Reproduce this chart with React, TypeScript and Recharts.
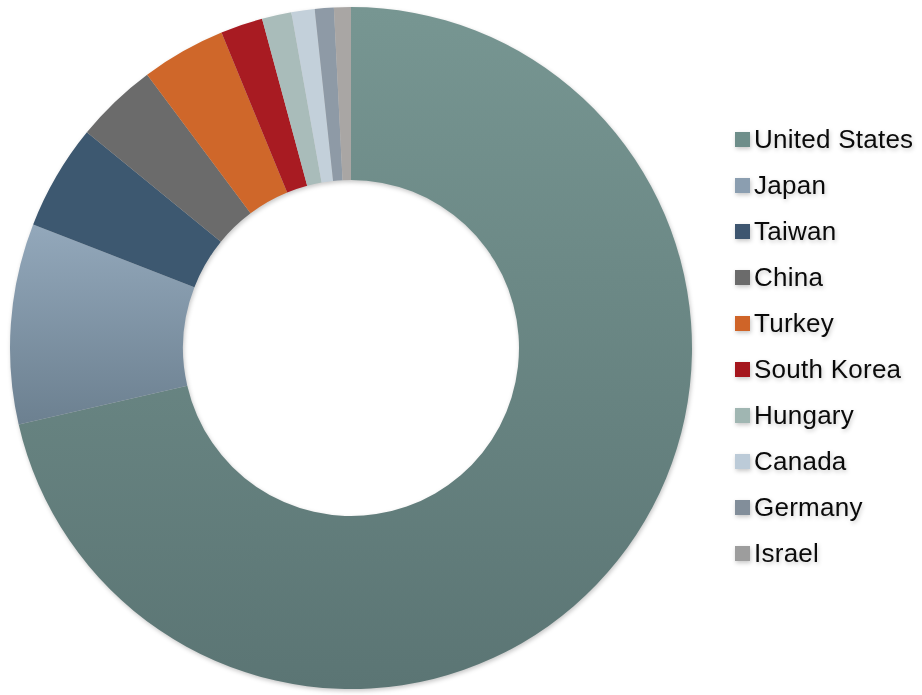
import { Cell, Legend, Pie, PieChart } from "recharts";

const countries = [
  "United States",
  "Japan",
  "Taiwan",
  "China",
  "Turkey",
  "South Korea",
  "Hungary",
  "Canada",
  "Germany",
  "Israel",
];

// share in percent
const shares = [71.4, 9.5, 5.0, 3.9, 4.0, 2.0, 1.4, 1.1, 0.9, 0.8];

const swatches = [
  "#6e8e8a",
  "#8b9eb0",
  "#3e5670",
  "#6b6b6b",
  "#cf6428",
  "#a5161d",
  "#a0b6b2",
  "#bccbd8",
  "#828e9a",
  "#9d9d9d",
];

const fills = [
  "url(#gradUS)",
  "url(#gradJP)",
  "#3d5870",
  "#6b6b6b",
  "#cf672a",
  "#a81b22",
  "#a9bcba",
  "#c3d0da",
  "#8e9aa6",
  "#a9a6a4",
];

const data = countries.map((name, i) => ({ name, value: shares[i] }));

// legend keeps the series order (recharts would sort the payload by name)
function LegendList() {
  return (
    <div style={{ fontFamily: "'Liberation Sans', Arial, sans-serif" }}>
      {countries.map((name, i) => (
        <div key={name} style={{ display: "flex", alignItems: "center", height: 46.1 }}>
          <span
            style={{
              display: "inline-block",
              width: 15,
              height: 15,
              background: swatches[i],
              marginRight: 4,
            }}
          />
          <span style={{ fontSize: 26, color: "#0a0a0a", letterSpacing: 0.25 }}>{name}</span>
        </div>
      ))}
    </div>
  );
}

export default function App() {
  return (
    <div style={{ position: "absolute", left: 0, top: 0, width: 922, height: 695, background: "#fff" }}>
      <PieChart
        width={922}
        height={695}
        margin={{ top: 0, right: 0, bottom: 0, left: 0 }}
        style={{ filter: "drop-shadow(1px 2px 2px rgba(0,0,0,0.22))" }}
      >
        <defs>
          <linearGradient id="gradUS" x1="0" y1="0" x2="0" y2="1">
            <stop offset="0%" stopColor="#779692" />
            <stop offset="100%" stopColor="#5b7574" />
          </linearGradient>
          <linearGradient id="gradJP" x1="0" y1="0" x2="0" y2="1">
            <stop offset="0%" stopColor="#93a8bb" />
            <stop offset="100%" stopColor="#6c8090" />
          </linearGradient>
        </defs>
        <Pie
          data={data}
          dataKey="value"
          nameKey="name"
          cx={351}
          cy={348}
          outerRadius={341}
          innerRadius={168}
          startAngle={90}
          endAngle={-270}
          stroke="none"
          isAnimationActive={false}
        >
          {data.map((d, i) => (
            <Cell key={d.name} fill={fills[i]} />
          ))}
        </Pie>
        <Legend
          layout="vertical"
          content={<LegendList />}
          wrapperStyle={{ position: "absolute", left: 735, top: 116, width: 187 }}
        />
      </PieChart>
    </div>
  );
}
